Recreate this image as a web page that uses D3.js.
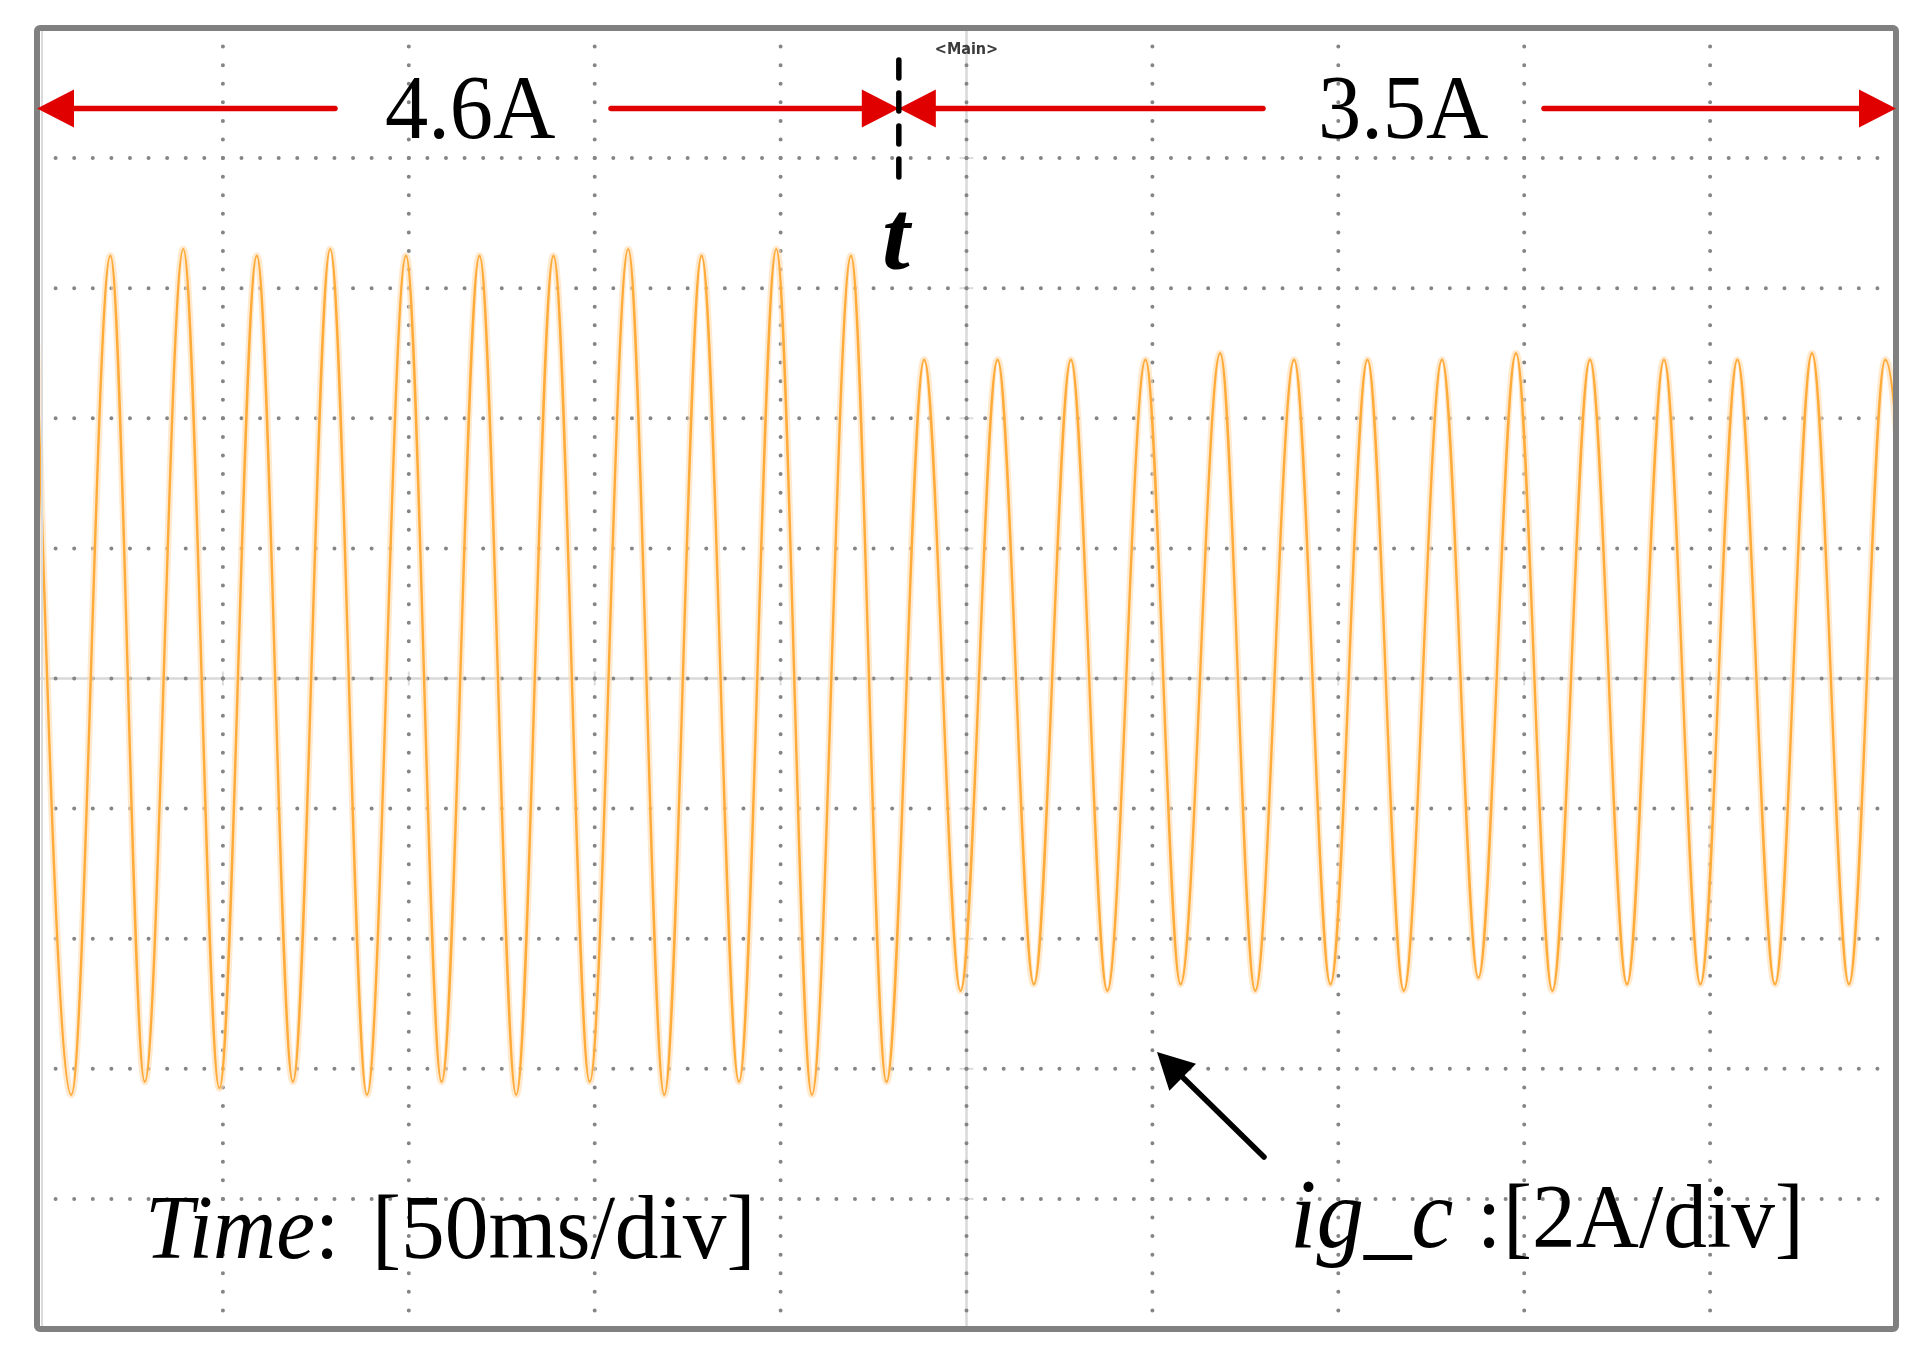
<!DOCTYPE html>
<html><head><meta charset="utf-8">
<script src="https://cdn.jsdelivr.net/npm/d3@7"></script>
<style>html,body{margin:0;padding:0;background:#fff;} svg{display:block;}</style>
</head><body>
<svg id="chart" width="1918" height="1355"></svg>
<script>
// ---- data ----
const timeDivisionsMs = [0, 50, 100, 150, 200, 250, 300, 350, 400, 450, 500];   // 50 ms/div
const currentDivisionsA = [-10, -8, -6, -4, -2, 0, 2, 4, 6, 8, 10];             // 2 A/div
// peaks and troughs of i_g_c (time in ms, current in A)
const extremaTimeMs = [
  -0.8, 9.23, 19.74, 28.99, 39.35, 49.06, 59.12, 68.83, 78.86, 88.76, 99.25, 108.82,
  119.02, 128.89, 138.92, 148.65, 159.01, 168.72, 178.75, 188.81, 198.84, 208.42, 218.93, 228.48,
  238.62, 248.41, 258.36, 268.13, 278.08, 287.87, 298.14, 307.58, 318.23, 327.65, 338.11, 347.9,
  357.85, 367.61, 377.89, 387.68, 397.79, 407.58, 417.69, 427.65, 437.6, 447.39, 457.34, 467.45,
  477.4, 487.36, 497.12, 507.2
];
const extremaCurrentA = [
  6.5, -6.4, 6.5, -6.2, 6.6, -6.3, 6.5, -6.2, 6.6, -6.4, 6.5, -6.2,
  6.5, -6.4, 6.5, -6.2, 6.6, -6.4, 6.5, -6.2, 6.6, -6.4, 6.5, -6.2,
  4.9, -4.8, 4.9, -4.7, 4.9, -4.8, 4.9, -4.7, 5.0, -4.8, 4.9, -4.7,
  4.9, -4.8, 4.9, -4.6, 5.0, -4.8, 4.9, -4.7, 4.9, -4.7, 4.9, -4.7,
  5.0, -4.7, 4.9, -4.7
];
const stepTimeMs = 231.8;             // instant t of the load step
const rmsLabels = ["4.6A", "3.5A"];
const timeLabel = ["Time", ":", "[50ms/div]"];
const currentLabel = ["ig_c", ":", "[2A/div]"];
const screenTag = "<Main>";

// ---- layout ----
const svg = d3.select("#chart");
const X0 = 37, X1 = 1896, Y0 = 28, Y1 = 1329;
const x = d3.scaleLinear().domain([0, 500]).range([X0, X1]);
const y = d3.scaleLinear().domain([-10, 10]).range([Y1, Y0]);
const serif = "'Liberation Serif','Times New Roman',serif";

svg.append("rect").attr("width", 1918).attr("height", 1355).attr("fill", "#fff");

const defs = svg.append("defs");
defs.append("clipPath").attr("id", "clip").append("rect")
  .attr("x", X0 + 3).attr("y", Y0).attr("width", X1 - X0 - 6).attr("height", Y1 - Y0);
defs.append("filter").attr("id", "soft").append("feGaussianBlur").attr("stdDeviation", 0.7);

const grid = svg.append("g");
const dotX = Math.abs(x(50) - x(0)) / 10;
const dotY = Math.abs(y(-8) - y(-10)) / 7;

// light solid center axes
grid.append("line").attr("x1", x(250)).attr("x2", x(250)).attr("y1", Y0).attr("y2", Y1)
  .attr("stroke", "#d9d9d9").attr("stroke-width", 2.5);
grid.append("line").attr("x1", X0).attr("x2", X1).attr("y1", y(0)).attr("y2", y(0))
  .attr("stroke", "#d9d9d9").attr("stroke-width", 2.5);
// small ticks on center axes
grid.selectAll(".tv").data(currentDivisionsA.slice(1, -1)).join("line")
  .attr("x1", x(250) - 7).attr("x2", x(250) + 7).attr("y1", d => y(d)).attr("y2", d => y(d))
  .attr("stroke", "#dcdcdc").attr("stroke-width", 2);
grid.selectAll(".th").data(timeDivisionsMs.slice(1, -1)).join("line")
  .attr("y1", y(0) - 7).attr("y2", y(0) + 7).attr("x1", d => x(d)).attr("x2", d => x(d))
  .attr("stroke", "#dcdcdc").attr("stroke-width", 2);

// dotted graticule
grid.selectAll(".gv").data(timeDivisionsMs.slice(1, -1)).join("line")
  .attr("x1", d => x(d)).attr("x2", d => x(d)).attr("y1", Y0).attr("y2", Y1)
  .attr("stroke", "#858585").attr("stroke-width", 4).attr("stroke-linecap", "round")
  .attr("stroke-dasharray", `0 ${dotY}`);
grid.selectAll(".gh").data(currentDivisionsA.slice(1, -1)).join("line")
  .attr("y1", d => y(d)).attr("y2", d => y(d)).attr("x1", X0).attr("x2", X1)
  .attr("stroke", "#858585").attr("stroke-width", 4).attr("stroke-linecap", "round")
  .attr("stroke-dasharray", `0 ${dotX}`);

// waveform
const pts = extremaTimeMs.map((t, i) => [t, extremaCurrentA[i]]);
const line = d3.line().x(d => x(d[0])).y(d => y(d[1])).curve(d3.curveMonotoneX);
const wave = svg.append("g").attr("clip-path", "url(#clip)");
wave.append("path").attr("d", line(pts)).attr("fill", "none")
  .attr("stroke", "#ffdcb0").attr("stroke-width", 7).attr("opacity", 0.6);
wave.append("path").attr("d", line(pts)).attr("fill", "none")
  .attr("stroke", "#ffab3a").attr("stroke-width", 2.4);

// "<Main>" tag
svg.append("text").attr("x", x(250)).attr("y", 54).attr("text-anchor", "middle")
  .attr("font-family", "'DejaVu Sans Condensed','DejaVu Sans',sans-serif").attr("font-weight", "bold")
  .attr("font-size", 16).attr("fill", "#3a3a3a").attr("filter", "url(#soft)").text(screenTag);

// frame
svg.append("line").attr("x1", X0 + 5).attr("x2", X0 + 5).attr("y1", Y0 + 3).attr("y2", Y1 - 3)
  .attr("stroke", "#dadada").attr("stroke-width", 2);
svg.append("rect").attr("x", X0).attr("y", Y0).attr("width", X1 - X0).attr("height", Y1 - Y0)
  .attr("rx", 3).attr("fill", "none").attr("stroke", "#808080").attr("stroke-width", 6);

// ---- annotations ----
const red = "#e00000";
const ay = 108.5;
function redLine(a, b) {
  svg.append("line").attr("x1", a).attr("x2", b).attr("y1", ay).attr("y2", ay)
    .attr("stroke", red).attr("stroke-width", 5.5).attr("stroke-linecap", "round");
}
function redHead(tip, dir) { // dir = -1 pointing left, +1 pointing right
  const base = tip - dir * 37;
  svg.append("polygon").attr("points", `${tip},${ay} ${base},${ay - 19} ${base},${ay + 19}`).attr("fill", red);
}
const xs = x(stepTimeMs);
redLine(x(0) + 30, 335); redHead(x(0), -1);
redLine(611, xs - 30); redHead(xs, 1);
redLine(xs + 30, 1263); redHead(xs, -1);
redLine(1544, x(500) - 30); redHead(x(500), 1);

function label(px, py, size, sx) {
  return svg.append("text").attr("transform", `translate(${px},${py}) scale(${sx},1)`)
    .attr("font-family", serif).attr("font-size", size).attr("fill", "#000");
}
label(385, 138, 92, 0.94).text(rmsLabels[0]);
label(1318, 138, 92, 0.94).text(rmsLabels[1]);

// dashed marker at t
svg.append("line").attr("x1", xs).attr("x2", xs).attr("y1", 60).attr("y2", 178)
  .attr("stroke", "#000").attr("stroke-width", 5.5).attr("stroke-linecap", "round")
  .attr("stroke-dasharray", "18 15");
svg.append("text").attr("x", xs - 3).attr("y", 269).attr("text-anchor", "middle")
  .attr("font-family", serif).attr("font-size", 100).attr("font-style", "italic").attr("font-weight", "bold")
  .text("t");

// Time label
const tl = label(145, 1258, 92, 0.95);
tl.append("tspan").attr("font-style", "italic").text(timeLabel[0]);
tl.append("tspan").text(timeLabel[1]);
label(372, 1258, 92, 0.95).text(timeLabel[2]);

// current label
label(1290, 1247, 100, 0.95).attr("font-style", "italic").text(currentLabel[0]);
label(1477, 1247, 92, 0.95).text(currentLabel[1]);
label(1503, 1247, 92, 0.95).text(currentLabel[2]);

// black pointer arrow
const s = [1264, 1157], tip = [1157, 1052];
const L = Math.hypot(tip[0] - s[0], tip[1] - s[1]);
const u = [(tip[0] - s[0]) / L, (tip[1] - s[1]) / L];
const bc = [tip[0] - 36 * u[0], tip[1] - 36 * u[1]];
const pp = [-u[1] * 19, u[0] * 19];
svg.append("line").attr("x1", s[0]).attr("y1", s[1]).attr("x2", bc[0] + 4 * u[0]).attr("y2", bc[1] + 4 * u[1])
  .attr("stroke", "#000").attr("stroke-width", 5.5).attr("stroke-linecap", "round");
svg.append("polygon")
  .attr("points", `${tip[0]},${tip[1]} ${bc[0] + pp[0]},${bc[1] + pp[1]} ${bc[0] - pp[0]},${bc[1] - pp[1]}`)
  .attr("fill", "#000");
</script>
</body></html>
